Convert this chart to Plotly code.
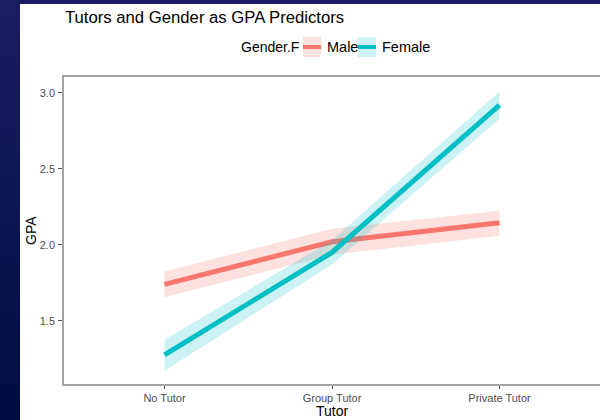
import plotly.graph_objects as go

# Effect estimates (GPA) with 95% confidence bounds by tutoring type
tutor_levels = ["No Tutor", "Group Tutor", "Private Tutor"]
groups = ["Male", "Female"]
male_fit = [1.74, 2.02, 2.145]
male_lower = [1.655, 1.935, 2.06]
male_upper = [1.825, 2.105, 2.225]
female_fit = [1.275, 1.95, 2.92]
female_lower = [1.17, 1.87, 2.83]
female_upper = [1.375, 2.03, 3.01]
y_ticks = [1.5, 2.0, 2.5, 3.0]
y_tick_text = ["1.5", "2.0", "2.5", "3.0"]

line_colors = {"Male": "#F8766D", "Female": "#00BFC4"}
band_colors = {"Male": "rgba(248,118,109,0.22)", "Female": "rgba(0,191,196,0.2)"}
series = {
    "Male": (male_fit, male_lower, male_upper),
    "Female": (female_fit, female_lower, female_upper),
}

W, H = 600, 420
L, R, T, B = 64, 0, 77, 36
FONT = "Liberation Sans, Arial, sans-serif"

x_pos = list(range(len(tutor_levels)))
fig = go.Figure()
for g in groups:
    fit, lo, hi = series[g]
    fig.add_trace(go.Scatter(x=x_pos, y=lo, mode="lines", line=dict(width=0),
                             hoverinfo="skip", showlegend=False))
    fig.add_trace(go.Scatter(x=x_pos, y=hi, mode="lines", line=dict(width=0),
                             fill="tonexty", fillcolor=band_colors[g],
                             hoverinfo="skip", showlegend=False))
    fig.add_trace(go.Scatter(x=x_pos, y=fit, mode="lines", name=g,
                             line=dict(color=line_colors[g], width=5),
                             showlegend=False))


# convert figure pixel positions to paper coordinates (relative to the plot area)
def px_x(p):
    return (p - L) / (W - L - R)


def px_y(p):
    return (H - B - p) / (H - T - B)


shapes = []
# slide backdrop: dark navy frame with a vertical gradient on the left strip
top_c = (28, 28, 96)
bot_c = (0, 13, 66)
n = 24
for i in range(n):
    t = i / (n - 1)
    c = tuple(int(round(top_c[k] + (bot_c[k] - top_c[k]) * t)) for k in range(3))
    shapes.append(dict(type="rect", xref="paper", yref="paper", layer="below",
                       x0=px_x(0), x1=px_x(20), y0=px_y(H * i / n), y1=px_y(H * (i + 1) / n + 1),
                       fillcolor="rgb(%d,%d,%d)" % c, line=dict(width=0)))
shapes.append(dict(type="rect", xref="paper", yref="paper", layer="below",
                   x0=px_x(0), x1=px_x(W), y0=px_y(0), y1=px_y(4),
                   fillcolor="rgb(28,28,96)", line=dict(width=0)))

# custom legend keys (ribbon + line)
key_specs = [("Male", 303, 321), ("Female", 358, 376)]
for g, x0, x1 in key_specs:
    shapes.append(dict(type="rect", xref="paper", yref="paper",
                       x0=px_x(x0), x1=px_x(x1), y0=px_y(37), y1=px_y(57),
                       fillcolor=band_colors[g], line=dict(width=0)))
    shapes.append(dict(type="line", xref="paper", yref="paper",
                       x0=px_x(x0), x1=px_x(x1), y0=px_y(47), y1=px_y(47),
                       line=dict(color=line_colors[g], width=4)))

annotations = [
    dict(text="Tutors and Gender as GPA Predictors", xref="paper", yref="paper",
         x=px_x(63), y=px_y(18), xanchor="left", yanchor="middle", showarrow=False,
         font=dict(family=FONT, size=16.7, color="black")),
    dict(text="Gender.F", xref="paper", yref="paper", x=px_x(239), y=px_y(47),
         xanchor="left", yanchor="middle", showarrow=False,
         font=dict(family=FONT, size=14, color="black")),
    dict(text="Male", xref="paper", yref="paper", x=px_x(325), y=px_y(47),
         xanchor="left", yanchor="middle", showarrow=False,
         font=dict(family=FONT, size=14.5, color="black")),
    dict(text="Female", xref="paper", yref="paper", x=px_x(380), y=px_y(47),
         xanchor="left", yanchor="middle", showarrow=False,
         font=dict(family=FONT, size=14.5, color="black")),
    dict(text="Tutor", xref="paper", yref="paper", x=px_x(332), y=px_y(411),
         xanchor="center", yanchor="middle", showarrow=False,
         font=dict(family=FONT, size=14, color="black")),
    dict(text="GPA", xref="paper", yref="paper", x=px_x(31), y=px_y(231),
         xanchor="center", yanchor="middle", showarrow=False, textangle=-90,
         font=dict(family=FONT, size=14, color="black")),
]

fig.update_layout(
    width=W, height=H,
    margin=dict(l=L, r=R, t=T, b=B, pad=0),
    paper_bgcolor="white", plot_bgcolor="white",
    shapes=shapes, annotations=annotations,
    showlegend=False,
    xaxis=dict(range=[-0.6, 2.6], tickmode="array", tickvals=x_pos, ticktext=tutor_levels,
               showgrid=False, zeroline=False, showline=True, mirror=True,
               linecolor="#a3a3a3", linewidth=1.5, ticks="outside", ticklen=3,
               tickcolor="#555555", tickwidth=1,
               tickfont=dict(family=FONT, size=11, color="#4d4d4d")),
    yaxis=dict(range=[1.0835, 3.105], tickmode="array", tickvals=y_ticks, ticktext=y_tick_text,
               showgrid=False, zeroline=False, showline=True, mirror=False,
               linecolor="#a3a3a3", linewidth=1.5, ticks="outside", ticklen=4,
               tickcolor="#555555", tickwidth=1, ticklabelstandoff=1,
               tickfont=dict(family=FONT, size=11, color="#4d4d4d")),
)

fig.write_html("out.html")
